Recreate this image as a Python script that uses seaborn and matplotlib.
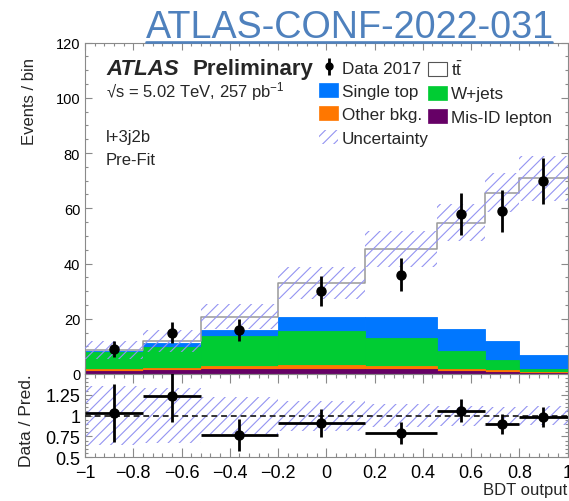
import numpy as np
import pandas as pd
import matplotlib
matplotlib.use("Agg")
import matplotlib.pyplot as plt
from matplotlib.lines import Line2D
from matplotlib.patches import Patch
from matplotlib.ticker import MultipleLocator, FixedLocator, FuncFormatter
import seaborn as sns

# ---- BDT output binning (variable width) ----
bin_edges = [-1.0, -0.76, -0.52, -0.2, 0.16, 0.46, 0.66, 0.80, 1.0]

# ---- Pre-fit predicted yields per bin ----
misid_lepton = [1.2, 1.45, 1.8, 1.9, 1.8, 1.2, 0.85, 0.5]
other_bkg = [0.5, 0.75, 1.1, 1.3, 1.0, 0.5, 0.6, 0.3]
wjets = [6.4, 7.6, 10.7, 12.2, 10.2, 6.7, 3.65, 1.0]
single_top = [0.2, 1.5, 2.2, 5.4, 7.5, 8.0, 7.0, 5.1]
ttbar = [0.4, 0.8, 5.0, 12.2, 24.8, 38.4, 53.6, 64.0]

# total uncertainty on the prediction (events)
pred_unc = [3.1, 4.0, 4.6, 5.9, 6.4, 6.6, 6.9, 8.1]

# observed events
data_2017 = [9, 15, 16, 30, 36, 58, 59, 70]

# ---- style ----
sns.set_theme(style="ticks")
plt.rcParams["font.family"] = ["Liberation Sans", "DejaVu Sans"]
plt.rcParams["mathtext.fontset"] = "custom"
plt.rcParams["mathtext.rm"] = "Liberation Sans"
plt.rcParams["mathtext.it"] = "Liberation Sans:italic"
plt.rcParams["mathtext.bf"] = "Liberation Sans:bold"
plt.rcParams["mathtext.default"] = "regular"
plt.rcParams["hatch.linewidth"] = 0.8

c_misid = "#660066"
c_other = "#ff7700"
c_wjets = "#00cc33"
c_stop = "#0077ff"
c_hatch = "#9494f2"
c_frame = "#8a8a8a"
c_title = "#4f81bd"

W, H = 569, 502
fig = plt.figure(figsize=(W / 100, H / 100), dpi=100)


def fx(px):
    return px / W


def fy(py):
    return 1 - py / H


x0, x1 = 85, 567.5
ax = fig.add_axes([fx(x0), fy(375), fx(x1) - fx(x0), fy(43.5) - fy(375)])
axr = fig.add_axes([fx(x0), fy(458.3), fx(x1) - fx(x0), fy(375) - fy(458.3)])

edges = np.array(bin_edges)
centers = 0.5 * (edges[1:] + edges[:-1])
halfw = 0.5 * np.diff(edges)

# ---- stacked backgrounds: draw cumulative layers from the top down ----
layers = [misid_lepton, other_bkg, wjets, single_top]
layer_colors = [c_misid, c_other, c_wjets, c_stop]
cum = np.cumsum(np.array(layers, dtype=float), axis=0)
for k in range(len(layers) - 1, -1, -1):
    df = pd.DataFrame({"bdt": centers, "events": cum[k]})
    sns.histplot(data=df, x="bdt", weights="events", bins=list(bin_edges),
                 stat="count", element="bars", fill=True,
                 color=layer_colors[k], alpha=1,
                 edgecolor=layer_colors[k], linewidth=0.6, ax=ax, zorder=2)

total = cum[-1] + np.array(ttbar)
df_tot = pd.DataFrame({"bdt": centers, "events": total})
sns.histplot(data=df_tot, x="bdt", weights="events", bins=list(bin_edges),
             element="step", fill=False, color="#999999", linewidth=1.1,
             ax=ax, zorder=3)

# uncertainty band
unc = np.array(pred_unc)
ax.bar(centers, 2 * unc, bottom=total - unc, width=2 * halfw,
       facecolor="none", edgecolor=c_hatch, hatch="///", linewidth=0,
       zorder=4)

# data
data = np.array(data_2017, dtype=float)
derr = np.sqrt(data)
ax.errorbar(centers, data, yerr=derr, fmt="o", color="black",
            ms=6.5, elinewidth=2.0, capsize=0, zorder=6)

# ---- ratio panel ----
rel = unc / total
axr.bar(centers, 2 * rel, bottom=1 - rel, width=2 * halfw,
        facecolor="none", edgecolor=c_hatch, hatch="///", linewidth=0,
        zorder=2)
axr.axhline(1.0, color="#333333", ls=(0, (3, 2)), lw=1.4, zorder=3)
axr.errorbar(centers, data / total, xerr=halfw, yerr=derr / total,
             fmt="o", color="black", ms=6.5, elinewidth=2.0, capsize=0,
             zorder=6)

# ---- axes ----
for a in (ax, axr):
    a.set_xlim(-1, 1)
    a.set_xlabel("")
    a.set_ylabel("")
    for s in a.spines.values():
        s.set_color(c_frame)
        s.set_linewidth(0.8)
    a.tick_params(which="both", direction="in", top=True, right=True,
                  color=c_frame, width=0.8, labelcolor="black")
    a.xaxis.set_major_locator(MultipleLocator(0.2))
    a.xaxis.set_minor_locator(MultipleLocator(0.04))

ax.set_ylim(0, 120)
ax.yaxis.set_major_locator(MultipleLocator(20))
ax.yaxis.set_minor_locator(MultipleLocator(5))
ax.tick_params(axis="x", which="both", labelbottom=False)
ax.tick_params(axis="x", which="major", length=5)
ax.tick_params(axis="x", which="minor", length=2.5)
ax.tick_params(axis="y", which="major", length=5, labelsize=10.5, pad=3.5)
ax.tick_params(axis="y", which="minor", length=2.5)

axr.set_ylim(0.5, 1.5)
axr.yaxis.set_major_locator(FixedLocator([0.5, 0.75, 1.0, 1.25]))
axr.yaxis.set_major_formatter(FuncFormatter(lambda v, p: f"{v:g}"))
axr.yaxis.set_minor_locator(MultipleLocator(0.05))


def xfmt(v, pos):
    if abs(v) < 1e-9:
        return "0"
    return f"{round(v, 2):g}".replace("-", "\u2212")


axr.xaxis.set_major_formatter(FuncFormatter(xfmt))
axr.tick_params(axis="x", which="major", length=6.5, labelsize=13, pad=5)
axr.tick_params(axis="x", which="minor", length=3.2)
axr.tick_params(axis="y", which="major", length=5, labelsize=13, pad=3.5)
axr.tick_params(axis="y", which="minor", length=2.5)

fig.text(fx(29), fy(58), "Events / bin", rotation=90, ha="center",
         va="top", fontsize=12)
fig.text(fx(27), fy(421), "Data / Pred.", rotation=90, ha="center",
         va="center", fontsize=12.5)
fig.text(fx(567), fy(491), "BDT output", ha="right", va="center",
         fontsize=12)

# ---- labels ----
fig.text(fx(106), fy(75), "ATLAS", fontsize=16, fontweight="bold",
         fontstyle="italic", va="baseline")
fig.text(fx(193), fy(75), "Preliminary", fontsize=16, fontweight="bold",
         va="baseline")
fig.text(fx(106), fy(97.5), "\u221as = 5.02 TeV, 257 pb$^{-1}$",
         fontsize=12, va="baseline")
fig.text(fx(106), fy(142), "l+3j2b", fontsize=12, va="baseline")
fig.text(fx(106), fy(165), "Pre-Fit", fontsize=12, va="baseline")

fig.text(fx(146), fy(38.5), "ATLAS-CONF-2022-031", fontsize=27.2,
         color=c_title, va="baseline")
fig.add_artist(Line2D([fx(146), fx(552)], [fy(43), fy(43)],
                      color=c_title, lw=1.9, transform=fig.transFigure,
                      zorder=10))

# ---- legend ----
fs_leg = 12.3
fs_px = fs_leg * 100 / 72
leg_kw = dict(loc="upper left", bbox_transform=fig.transFigure,
              frameon=False, borderpad=0, borderaxespad=0,
              handlelength=19 / fs_px, handleheight=15 / fs_px,
              handletextpad=4 / fs_px, labelspacing=0.43, fontsize=fs_leg)
h_data = ax.errorbar([np.nan], [np.nan], yerr=[1.0], fmt="o", ms=5,
                     color="black", elinewidth=2.0, capsize=0)
h_stop = Patch(facecolor=c_stop, edgecolor=c_stop, lw=0.5)
h_other = Patch(facecolor=c_other, edgecolor=c_other, lw=0.5)
h_unc = Patch(facecolor="none", edgecolor=c_hatch, hatch="///", lw=0)
h_tt = Patch(facecolor="white", edgecolor="#555555", lw=0.8)
h_w = Patch(facecolor=c_wjets, edgecolor=c_wjets, lw=0.5)
h_mis = Patch(facecolor=c_misid, edgecolor=c_misid, lw=0.5)

leg1 = ax.legend([h_data, h_stop, h_other, h_unc],
                 ["Data 2017", "Single top", "Other bkg.", "Uncertainty"],
                 bbox_to_anchor=(fx(319), fy(61)), **leg_kw)
ax.add_artist(leg1)
ax.legend([h_tt, h_w, h_mis], [r"$t\bar{t}$", "W+jets", "Mis-ID lepton"],
          bbox_to_anchor=(fx(428), fy(61)), **leg_kw)

fig.savefig("out.png", dpi=100)
